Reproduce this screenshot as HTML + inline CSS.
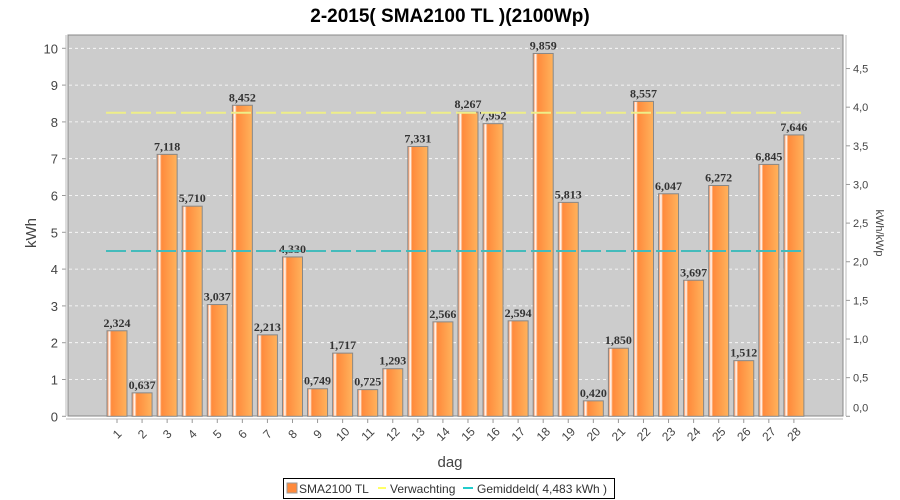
<!DOCTYPE html>
<html><head><meta charset="utf-8"><style>body{margin:0;background:#fff}svg{display:block}</style></head>
<body>
<svg id="c" width="900" height="500" xmlns="http://www.w3.org/2000/svg" font-family="Liberation Sans, sans-serif">
<defs>
<linearGradient id="g" x1="0" x2="1" y1="0" y2="0">
<stop offset="0" stop-color="#ff7a30"/><stop offset="0.12" stop-color="#ffffff"/><stop offset="0.22" stop-color="#ff8a3c"/><stop offset="1" stop-color="#ffb35c"/>
</linearGradient>
</defs>
<text x="450" y="22" text-anchor="middle" font-size="19" font-weight="bold" fill="#000">2-2015( SMA2100 TL )(2100Wp)</text>
<rect x="68" y="35" width="775" height="381" fill="#cccccc" stroke="#888" stroke-width="1"/>
<g id="dyn"></g>
<text x="450" y="467" text-anchor="middle" font-size="15" fill="#444">dag</text>
<text transform="translate(36,233) rotate(-90)" text-anchor="middle" font-size="15" fill="#444">kWh</text>
<text transform="translate(876,233) rotate(90)" text-anchor="middle" font-size="11" fill="#444">kWh/kWp</text>
<rect x="283.5" y="478.5" width="331" height="20" fill="#fff" stroke="#000"/>
<rect x="287" y="483" width="10" height="10" fill="#ff8a3c" stroke="#999"/>
<text x="299" y="493" font-size="12" fill="#333">SMA2100 TL</text>
<line x1="378" y1="488" x2="386" y2="488" stroke="#ffff66" stroke-width="2"/>
<text x="390" y="493" font-size="12" fill="#333">Verwachting</text>
<line x1="463" y1="488" x2="473" y2="488" stroke="#22cccc" stroke-width="2"/>
<text x="477" y="493" font-size="12" fill="#333">Gemiddeld( 4,483 kWh )</text>
</svg>
<script>
var v=[2.324,0.637,7.118,5.710,3.037,8.452,2.213,4.330,0.749,1.717,0.725,1.293,7.331,2.566,8.267,7.952,2.594,9.859,5.813,0.420,1.850,8.557,6.047,3.697,6.272,1.512,6.845,7.646];
var s='',y0=416.3,u=36.8;
for(var i=0;i<=10;i++){var y=y0-i*u;
 if(i>0)s+='<line x1="69" x2="842" y1="'+y+'" y2="'+y+'" stroke="#fff" stroke-dasharray="3,3" stroke-width="0.8"/>';
 s+='<line x1="62" x2="66" y1="'+y+'" y2="'+y+'" stroke="#999"/>';
 s+='<text x="58" y="'+(y+5)+'" text-anchor="end" font-size="13" fill="#444">'+i+'</text>';}
s+='<line x1="66" x2="66" y1="35" y2="416" stroke="#bbb"/>';
s+='<line x1="66" x2="843" y1="419" y2="419" stroke="#bbb"/>';
s+='<line x1="846" x2="846" y1="35" y2="416" stroke="#bbb"/>';
var r=u*2.1;
for(var k=0;k<=9;k++){var y=y0-k*0.5*r;s+='<line x1="846" x2="850" y1="'+y+'" y2="'+y+'" stroke="#999"/>';
 var ty=k==0?y0-5:y+4;
 s+='<text x="853" y="'+ty+'" font-size="11" fill="#444">'+(k*0.5).toFixed(1).replace('.',',')+'</text>';}
for(var i=0;i<28;i++){var cx=117+i*25.07,h=v[i]*u,y=y0-h;
 s+='<rect x="'+(cx-10)+'" y="'+y+'" width="20" height="'+h+'" fill="url(#g)" stroke="#888" stroke-width="1"/>';
 s+='<text x="'+cx+'" y="'+(y-4)+'" text-anchor="middle" font-family="Liberation Serif, serif" font-weight="bold" font-size="12" fill="#333">'+v[i].toFixed(3).replace('.',',')+'</text>';
 s+='<line x1="'+cx+'" x2="'+cx+'" y1="419" y2="423" stroke="#999"/>';
 s+='<text transform="translate('+(cx+3)+',437) rotate(-45)" text-anchor="middle" font-size="12" fill="#444">'+(i+1)+'</text>';}
s+='<line x1="106" x2="806" y1="112.7" y2="112.7" stroke="#eeee88" stroke-width="2" stroke-dasharray="20,5"/>';
s+='<line x1="106" x2="806" y1="251" y2="251" stroke="#44bbbb" stroke-width="2" stroke-dasharray="20,5"/>';
document.getElementById('dyn').innerHTML=s;
</script>
</body></html>
